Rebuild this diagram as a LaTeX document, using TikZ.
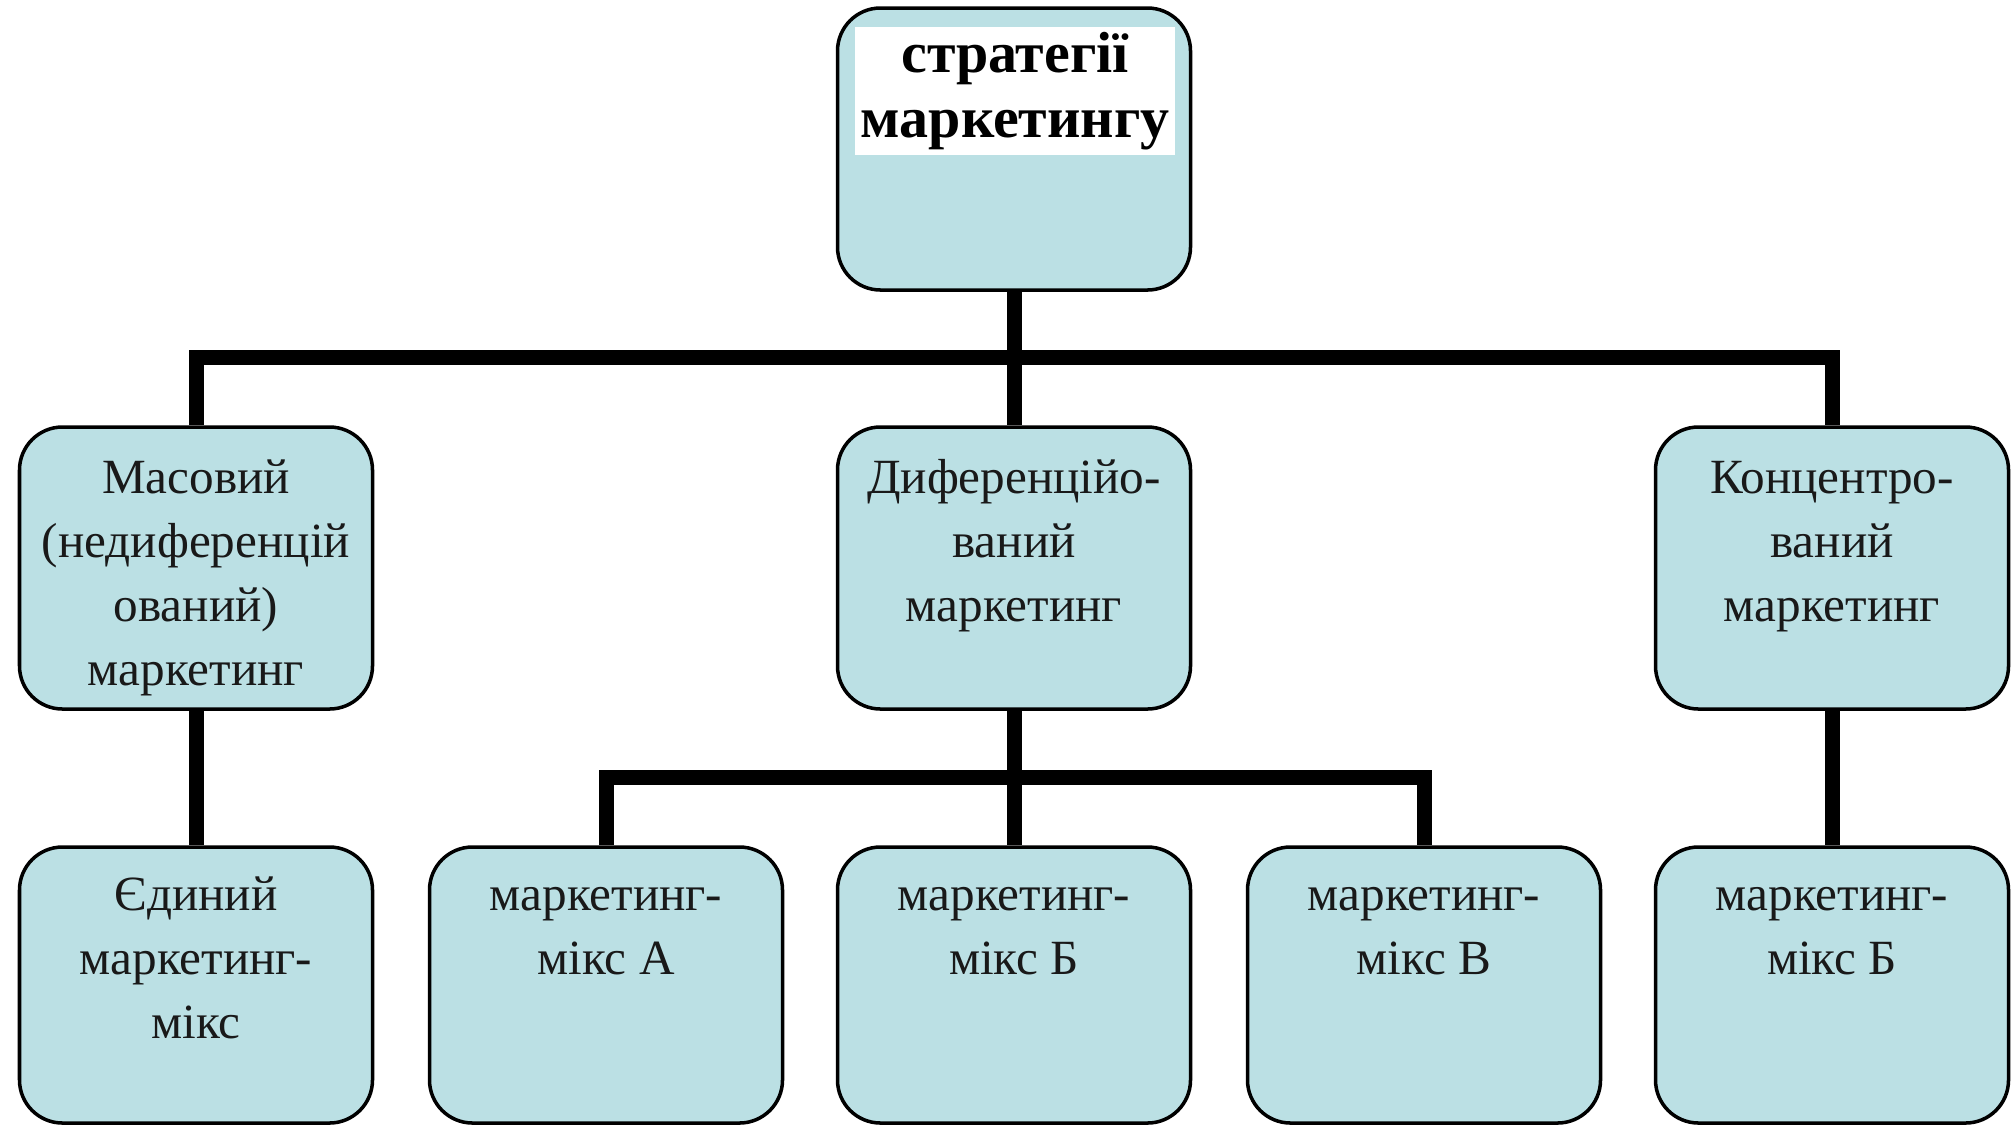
\documentclass[tikz,border=0pt]{standalone}
\usepackage{fontspec}
\setmainfont{Liberation Serif}
\definecolor{boxfill}{RGB}{187,224,228}
\newcommand{\boxtext}[1]{\parbox[c][2.4cm][t]{3.3cm}{\centering\strut #1}}

\begin{document}
\begin{tikzpicture}[
		box/.style={draw, line width=1pt, rounded corners=0.43cm, fill=boxfill, minimum width=3.53cm, minimum height=2.82cm, inner xsep=0.1cm, inner ysep=0.17cm, font=\fontsize{14}{18.3}\selectfont, text=black!90},
		lowbox/.style={box, minimum height=2.76cm},
		title/.style={fill=white, minimum width=3.2cm, minimum height=1.28cm, inner sep=0pt, align=center, font=\fontsize{16.5}{18.5}\selectfont\bfseries},
		conn/.style={line width=0.15cm},
	]
	\useasboundingbox (0,0) rectangle (20.13,-11.25);

	% top
	\node[box] (strat) at (10.14, -1.49) {};
	\node[title] (strattitle) at (10.15, -0.91) {стратегії\\маркетингу};

	% middle row
	\node[box] (mass) at (1.96,  -5.68) {\boxtext{Масовий\\(недиференцій\\ований)\\маркетинг}};
	\node[box] (diff) at (10.14, -5.68) {\boxtext{Диференційо-\\ваний\\маркетинг}};
	\node[box] (conc) at (18.32, -5.68) {\boxtext{Концентро-\\ваний\\маркетинг}};

	% bottom row
	\node[lowbox] (single) at (1.96,  -9.85) {\boxtext{Єдиний\\маркетинг-\\мікс}};
	\node[lowbox] (mixa)   at (6.06,  -9.85) {\boxtext{маркетинг-\\мікс А}};
	\node[lowbox] (mixb)   at (10.14, -9.85) {\boxtext{маркетинг-\\мікс Б}};
	\node[lowbox] (mixv)   at (14.24, -9.85) {\boxtext{маркетинг-\\мікс В}};
	\node[lowbox] (mixbc)  at (18.32, -9.85) {\boxtext{маркетинг-\\мікс Б}};

	\coordinate (bar1) at (10.14, -3.57);
	\coordinate (bar2) at (10.14, -7.77);

	\draw[conn] (strat) -- (diff);
	\draw[conn] (mass.north) |- (bar1) -| (conc.north);
	\draw[conn] (mass) -- (single);
	\draw[conn] (diff) -- (mixb);
	\draw[conn] (mixa.north) |- (bar2) -| (mixv.north);
	\draw[conn] (conc) -- (mixbc);
\end{tikzpicture}
\end{document}
